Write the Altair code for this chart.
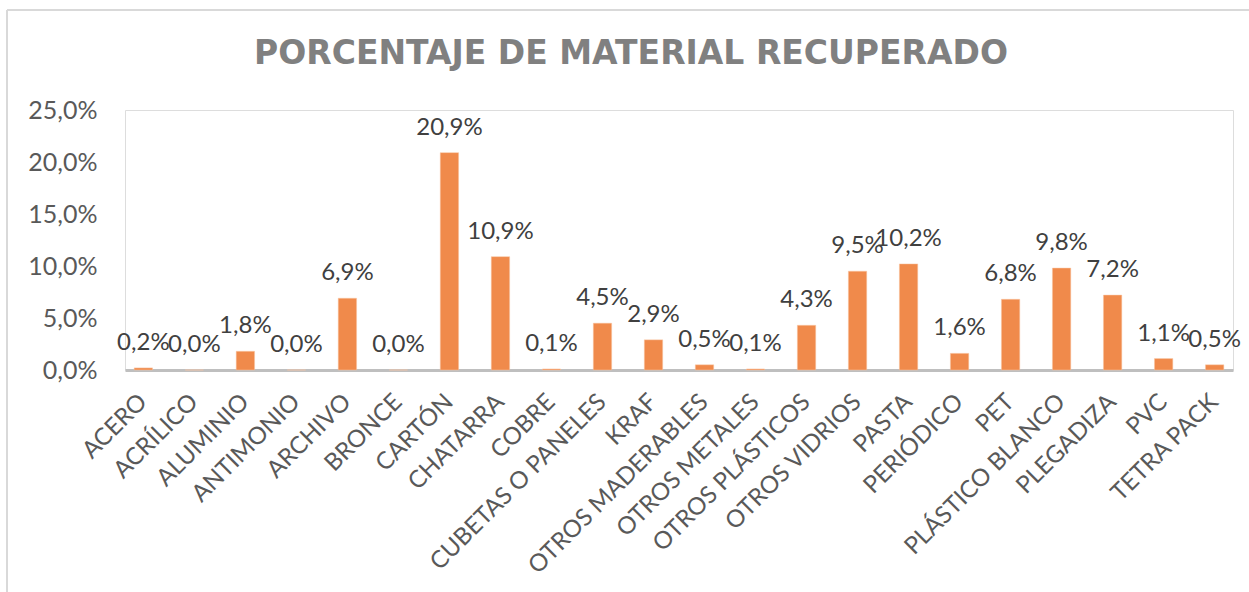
import altair as alt
import pandas as pd

categorias = ["ACERO", "ACRÍLICO", "ALUMINIO", "ANTIMONIO", "ARCHIVO", "BRONCE",
              "CARTÓN", "CHATARRA", "COBRE", "CUBETAS O PANELES", "KRAF",
              "OTROS MADERABLES", "OTROS METALES", "OTROS PLÁSTICOS", "OTROS VIDRIOS",
              "PASTA", "PERIÓDICO", "PET", "PLÁSTICO BLANCO", "PLEGADIZA", "PVC", "TETRA PACK"]
porcentajes = [0.002, 0.0, 0.018, 0.0, 0.069, 0.0, 0.209, 0.109, 0.001, 0.045, 0.029,
               0.005, 0.001, 0.043, 0.095, 0.102, 0.016, 0.068, 0.098, 0.072, 0.011, 0.005]
y_ticks = [0.0, 0.05, 0.10, 0.15, 0.20, 0.25]

df = pd.DataFrame({"material": categorias, "valor": porcentajes})

FONT = "Lato"
ORANGE = "#F08A4B"

base = alt.Chart(df)

x_enc = alt.X("material:N", sort=categorias, title=None,
              scale=alt.Scale(paddingInner=0.64, paddingOuter=0.18),
              axis=alt.Axis(labelAngle=-45, labelAlign="right", labelBaseline="middle",
                            labelFontSize=24, labelColor="#595959", labelFont=FONT,
                            labelPadding=28, ticks=False, domainColor="#BFBFBF",
                            domainWidth=3, labelLimit=400))
y_enc = alt.Y("valor:Q", title=None,
              scale=alt.Scale(domain=[0, 0.25], nice=False),
              axis=alt.Axis(values=y_ticks, grid=False, ticks=False, domain=False,
                            labelFontSize=25, labelColor="#595959", labelFont=FONT,
                            labelPadding=28,
                            labelExpr="replace(format(datum.value, '.1%'), '.', ',')"))

bars = base.mark_bar(color=ORANGE, stroke="#F8C7A5", strokeWidth=0.5).encode(x=x_enc, y=y_enc)

labels = base.transform_calculate(
    etiqueta="replace(format(datum.valor, '.1%'), '.', ',')"
).mark_text(baseline="middle", dy=-25, fontSize=24, color="#404040", font=FONT).encode(
    x=alt.X("material:N", sort=categorias),
    y="valor:Q",
    text="etiqueta:N",
)

frame_left = alt.Chart(df).mark_rule(color="#D9D9D9", strokeWidth=1.5).encode(
    x=alt.value(-118), y=alt.value(-100), y2=alt.value(490))
frame_top = alt.Chart(df).mark_rule(color="#D9D9D9", strokeWidth=1.5).encode(
    x=alt.value(-118), x2=alt.value(1130), y=alt.value(-100))

chart = alt.layer(frame_left, frame_top, bars, labels).properties(
    width=1108, height=260,
    title=alt.TitleParams("PORCENTAJE DE MATERIAL RECUPERADO", fontSize=33,
                          font="DejaVu Sans", fontWeight="bold", color="#808080",
                          anchor="middle", dx=-48, offset=-62),
    padding={"left": 125, "top": 110, "right": 16, "bottom": 222},
    autosize=alt.AutoSizeParams(type="none"),
).configure_view(stroke=None).configure(background="white")

chart.save("out.html", embed_options={"renderer": "svg", "actions": False})
